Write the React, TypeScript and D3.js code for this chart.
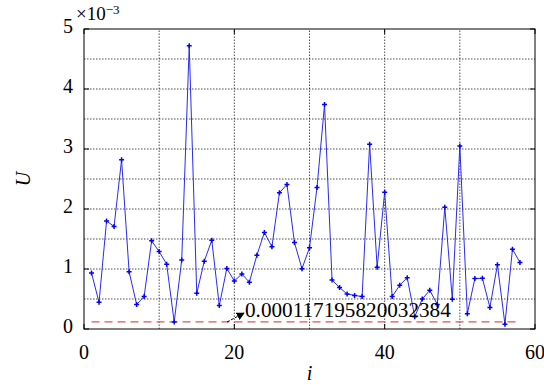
import { useRef, useEffect } from "react";
import { select, scaleLinear, line } from "d3";

// U values (x 1e-3) for i = 1..58
const uValues = [
    0.933, 0.445, 1.8, 1.71, 2.82, 0.955, 0.41, 0.54, 1.47, 1.29,
    1.08, 0.117, 1.15, 4.72, 0.595, 1.13, 1.48, 0.39, 1.01, 0.8,
    0.917, 0.78, 1.23, 1.61, 1.37, 2.27, 2.41, 1.44, 1.005, 1.355,
    2.36, 3.74, 0.817, 0.69, 0.583, 0.56, 0.54, 3.08, 1.03, 2.28,
    0.54, 0.73, 0.855, 0.205, 0.5, 0.645, 0.41, 2.03, 0.495, 3.05,
    0.255, 0.84, 0.845, 0.36, 1.07, 0.08, 1.33, 1.11,
];
const threshold = 0.000117195820032384;
const thresholdLabel = "0.000117195820032384";
const xTicks = [0, 20, 40, 60];
const yTicks = [0, 1, 2, 3, 4, 5];
const xGrid = [10, 20, 30, 40, 50];
const yGrid = [0.5, 1, 1.5, 2, 2.5, 3, 3.5, 4, 4.5];

const W = 544;
const H = 385;
const M = { left: 84, right: 9, top: 29, bottom: 56 };

export default function App() {
    const svgRef = useRef<SVGSVGElement>(null);

    useEffect(() => {
        const svg = select(svgRef.current);
        svg.selectAll("*").remove();

        const x = scaleLinear().domain([0, 60]).range([M.left, W - M.right]);
        const y = scaleLinear().domain([0, 5e-3]).range([H - M.bottom, M.top]);
        const font = "'Liberation Serif', 'Times New Roman', serif";

        const g = svg.append("g");

        // grid
        g.selectAll(".gx")
            .data(xGrid)
            .join("line")
            .attr("x1", (d) => x(d))
            .attr("x2", (d) => x(d))
            .attr("y1", y(0))
            .attr("y2", y(5e-3))
            .attr("stroke", "#222")
            .attr("stroke-width", 0.8)
            .attr("stroke-dasharray", "1.5,1.5");
        g.selectAll(".gy")
            .data(yGrid)
            .join("line")
            .attr("x1", x(0))
            .attr("x2", x(60))
            .attr("y1", (d) => y(d * 1e-3))
            .attr("y2", (d) => y(d * 1e-3))
            .attr("stroke", "#222")
            .attr("stroke-width", 0.8)
            .attr("stroke-dasharray", "1.5,1.5");

        // ticks (inward, both sides)
        xTicks.forEach((t) => {
            g.append("line").attr("x1", x(t)).attr("x2", x(t)).attr("y1", y(0)).attr("y2", y(0) - 5).attr("stroke", "#000");
            g.append("line").attr("x1", x(t)).attr("x2", x(t)).attr("y1", y(5e-3)).attr("y2", y(5e-3) + 5).attr("stroke", "#000");
            g.append("text")
                .attr("x", x(t))
                .attr("y", y(0) + 30)
                .attr("text-anchor", "middle")
                .attr("font-family", font)
                .attr("font-size", 20)
                .text(String(t));
        });
        yTicks.forEach((t) => {
            g.append("line").attr("x1", x(0)).attr("x2", x(0) + 5).attr("y1", y(t * 1e-3)).attr("y2", y(t * 1e-3)).attr("stroke", "#000");
            g.append("line").attr("x1", x(60)).attr("x2", x(60) - 5).attr("y1", y(t * 1e-3)).attr("y2", y(t * 1e-3)).attr("stroke", "#000");
            g.append("text")
                .attr("x", x(0) - 11)
                .attr("y", y(t * 1e-3) + 4)
                .attr("text-anchor", "end")
                .attr("font-family", font)
                .attr("font-size", 20)
                .text(String(t));
        });

        // exponent
        const ex = g.append("text").attr("x", 76).attr("y", 20).attr("font-family", font).attr("font-size", 19);
        ex.append("tspan").text("×10");
        ex.append("tspan").attr("dy", -6).attr("font-size", 13).text("−3");

        // threshold line
        g.append("line")
            .attr("x1", x(1))
            .attr("x2", x(58))
            .attr("y1", y(threshold))
            .attr("y2", y(threshold))
            .attr("stroke", "#e05555")
            .attr("stroke-width", 1.2)
            .attr("stroke-dasharray", "8,5");

        // data line
        const pts = uValues.map((v, i) => [i + 1, v * 1e-3] as [number, number]);
        g.append("path")
            .datum(pts)
            .attr("fill", "none")
            .attr("stroke", "#2a2af0")
            .attr("stroke-width", 1)
            .attr("d", line<[number, number]>().x((d) => x(d[0])).y((d) => y(d[1])));

        g.selectAll(".mk")
            .data(pts)
            .join("path")
            .attr("d", (d) => {
                const cx = x(d[0]);
                const cy = y(d[1]);
                return `M${cx - 2.5},${cy}H${cx + 2.5}M${cx},${cy - 2.5}V${cy + 2.5}`;
            })
            .attr("stroke", "#0000ff")
            .attr("stroke-width", 1.5);

        // frame
        g.append("rect")
            .attr("x", x(0))
            .attr("y", y(5e-3))
            .attr("width", x(60) - x(0))
            .attr("height", y(0) - y(5e-3))
            .attr("fill", "none")
            .attr("stroke", "#000")
            .attr("stroke-width", 1);

        // annotation
        svg.append("defs")
            .append("marker")
            .attr("id", "ah")
            .attr("viewBox", "0 0 10 10")
            .attr("refX", 9)
            .attr("refY", 5)
            .attr("markerWidth", 8)
            .attr("markerHeight", 8)
            .attr("orient", "auto")
            .append("path")
            .attr("d", "M0,0L10,5L0,10z")
            .attr("fill", "#000");
        g.append("line")
            .attr("x1", 227)
            .attr("y1", 322)
            .attr("x2", 244)
            .attr("y2", 313)
            .attr("stroke", "#000")
            .attr("stroke-width", 1)
            .attr("stroke-dasharray", "3,1.5")
            .attr("marker-end", "url(#ah)");
        g.append("text")
            .attr("x", 245)
            .attr("y", 317)
            .attr("font-family", font)
            .attr("font-size", 21.2)
            .text(thresholdLabel);

        // axis labels
        g.append("text")
            .attr("x", (x(0) + x(60)) / 2)
            .attr("y", 380)
            .attr("text-anchor", "middle")
            .attr("font-family", font)
            .attr("font-style", "italic")
            .attr("font-size", 20)
            .text("i");
        g.append("text")
            .attr("transform", `translate(30, ${(y(0) + y(5e-3)) / 2}) rotate(-90)`)
            .attr("text-anchor", "middle")
            .attr("font-family", font)
            .attr("font-style", "italic")
            .attr("font-size", 20)
            .text("U");
    }, []);

    return (
        <svg
            ref={svgRef}
            width={W}
            height={H}
            style={{ position: "absolute", left: 0, top: 0, background: "#fff" }}
        />
    );
}
